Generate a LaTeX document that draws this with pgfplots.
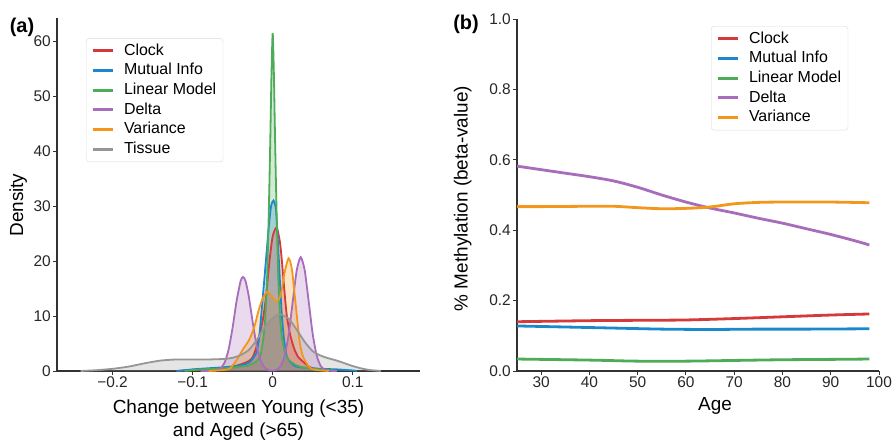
\documentclass[border=0pt]{standalone}
\usepackage{fontspec}
\setmainfont{Liberation Sans}
\usepackage{pgfplots}
\pgfplotsset{compat=1.18}
\definecolor{cRed}{RGB}{212,58,58}
\definecolor{cBlue}{RGB}{28,136,204}
\definecolor{cGreen}{RGB}{78,172,88}
\definecolor{cPurple}{RGB}{168,108,188}
\definecolor{cOrange}{RGB}{242,150,28}
\definecolor{cGray}{RGB}{150,150,150}
\definecolor{axc}{RGB}{50,50,50}
\pgfplotsset{
  myaxis/.style={
    scale only axis,
    anchor=south west,
    axis x line*=bottom, axis y line*=left,
    axis line style={-, draw=axc, line width=1.2bp},
    tick align=outside, major tick length=4bp,
    tick style={draw=axc, line width=1bp},
    ticklabel style={font=\fontsize{15.5}{18}\selectfont, text=black!85, inner sep=2bp},
    label style={font=\fontsize{19}{23}\selectfont},
    /pgf/number format/assume math mode=true,
    legend cell align=left,
    legend image code/.code={\draw[##1, line width=3bp] (0bp,0bp) -- (20bp,0bp);},
    legend style={draw=black!15, rounded corners=3bp, fill=white, fill opacity=0.85, text opacity=1,
      font=\fontsize{16}{19}\selectfont, inner xsep=5bp, inner ysep=3bp, row sep=0.6bp,
      nodes={inner sep=1.8bp, text height=12bp, text depth=3.5bp},
      /tikz/every odd column/.append style={column sep=8bp}},
  },
  kde/.style={draw=none, fill=#1, fill opacity=0.25, forget plot},
  kdl/.style={draw=#1, line width=1.8bp, smooth, tension=0.4},
}
\begin{document}
\begin{tikzpicture}
\useasboundingbox (0bp,0bp) rectangle (896bp,-442bp);
% ---------------- panel (a)
\begin{axis}[myaxis,
  at={(57bp,-371bp)}, width=363bp, height=353bp,
  xmin=-0.2694, xmax=0.184, ymin=0, ymax=64.2,
  xtick={-0.2,-0.1,0,0.1}, xticklabels={−0.2,−0.1,0,0.1},
  ytick={0,10,20,30,40,50,60}, yticklabels={0,10,20,30,40,50,60},
  xlabel={Change between Young (<35)\\and Aged (>65)},
  xlabel style={align=center, at={(axis description cs:0.5,-0.14)}, anchor=center},
  ylabel={Density},
  ylabel style={at={(axis description cs:-0.107,0.47)}, anchor=center, rotate=0},
  legend style={at={(axis description cs:0.08,0.943)}, anchor=north west},
]
% fills
\addplot[kde=cGray] coordinates {(-0.24,0) (-0.22,0.15) (-0.2,0.4) (-0.18,0.8) (-0.16,1.4) (-0.14,1.9) (-0.12,2.1) (-0.1,2.1) (-0.08,2.1) (-0.06,2.2) (-0.05,2.4) (-0.04,2.9) (-0.03,3.8) (-0.02,5.6) (-0.01,8) (0,9.6) (0.0094,10.3) (0.02,9.5) (0.03,7.5) (0.04,5.3) (0.05,3.6) (0.06,2.8) (0.07,2.3) (0.08,1.9) (0.09,1.4) (0.1,0.9) (0.11,0.5) (0.12,0.2) (0.135,0)} \closedcycle;
\addplot[kde=cPurple] coordinates {(-0.09,0) (-0.075,0.03) (-0.07,0.12) (-0.065,0.49) (-0.06,1.55) (-0.055,3.93) (-0.05,7.95) (-0.045,12.8) (-0.04,16.4) (-0.037,17.1) (-0.034,16.4) (-0.03,13.7) (-0.025,8.9) (-0.02,4.6) (-0.015,1.9) (-0.01,0.63) (-0.005,0.18) (0,0.08) (0.005,0.23) (0.01,0.91) (0.015,2.8) (0.02,6.7) (0.025,12.6) (0.03,18.3) (0.035,20.7) (0.04,18.3) (0.045,12.6) (0.05,6.7) (0.055,2.8) (0.06,0.91) (0.065,0.23) (0.07,0.05) (0.08,0)} \closedcycle;
\addplot[kde=cOrange] coordinates {(-0.08,0) (-0.06,0.2) (-0.053,0.5) (-0.045,2) (-0.0365,4.1) (-0.03,5.5) (-0.026,6.8) (-0.022,8.5) (-0.018,10.8) (-0.013,13) (-0.0073,14.4) (-0.002,13.8) (0.003,12.8) (0.0073,12.9) (0.011,14.5) (0.015,18) (0.0198,20.5) (0.024,18.5) (0.029,11.7) (0.032,7.5) (0.034,5) (0.037,3) (0.04,2) (0.045,0.8) (0.05,0.3) (0.06,0.1) (0.07,0)} \closedcycle;
\addplot[kde=cGreen] coordinates {(-0.11,0) (-0.09,0.3) (-0.07,0.4) (-0.05,0.6) (-0.04,0.8) (-0.03,1.0) (-0.02,1.8) (-0.015,3) (-0.01,8) (-0.007,17) (-0.005,28) (-0.003,42) (-0.0015,54) (0,61.5) (0.0015,54) (0.003,42) (0.005,28) (0.007,17) (0.01,8) (0.015,3.5) (0.02,2) (0.03,1.0) (0.04,0.6) (0.05,0.4) (0.06,0.3) (0.07,0.2) (0.08,0)} \closedcycle;
\addplot[kde=cBlue] coordinates {(-0.12,0) (-0.1,0.3) (-0.08,0.5) (-0.06,0.7) (-0.04,1.0) (-0.03,1.5) (-0.025,2.2) (-0.02,3.5) (-0.017,6) (-0.0144,10) (-0.012,14) (-0.0085,20) (-0.005,26) (-0.002,30) (0.001,31) (0.004,29.5) (0.006,25) (0.0078,20) (0.0095,15) (0.0115,10) (0.014,6) (0.017,3) (0.02,2) (0.025,1.2) (0.03,0.8) (0.04,0.6) (0.06,0.4) (0.08,0.3) (0.1,0.1) (0.105,0)} \closedcycle;
\addplot[kde=cRed] coordinates {(-0.12,0) (-0.1,0.2) (-0.08,0.3) (-0.06,0.5) (-0.05,0.8) (-0.04,1.2) (-0.03,1.8) (-0.025,2.5) (-0.02,4.5) (-0.015,7.5) (-0.0115,10) (-0.008,14) (-0.004,20) (0,24.5) (0.005,26.1) (0.009,23.5) (0.0115,20) (0.015,14) (0.0177,10) (0.022,6.5) (0.027,4) (0.032,2.5) (0.038,1.7) (0.045,0.8) (0.05,0.5) (0.06,0.3) (0.07,0.2) (0.08,0)} \closedcycle;
% lines
\addplot[kdl=cRed] coordinates {(-0.12,0) (-0.1,0.2) (-0.08,0.3) (-0.06,0.5) (-0.05,0.8) (-0.04,1.2) (-0.03,1.8) (-0.025,2.5) (-0.02,4.5) (-0.015,7.5) (-0.0115,10) (-0.008,14) (-0.004,20) (0,24.5) (0.005,26.1) (0.009,23.5) (0.0115,20) (0.015,14) (0.0177,10) (0.022,6.5) (0.027,4) (0.032,2.5) (0.038,1.7) (0.045,0.8) (0.05,0.5) (0.06,0.3) (0.07,0.2) (0.08,0)};
\addlegendentry{Clock}
\addplot[kdl=cBlue] coordinates {(-0.12,0) (-0.1,0.3) (-0.08,0.5) (-0.06,0.7) (-0.04,1.0) (-0.03,1.5) (-0.025,2.2) (-0.02,3.5) (-0.017,6) (-0.0144,10) (-0.012,14) (-0.0085,20) (-0.005,26) (-0.002,30) (0.001,31) (0.004,29.5) (0.006,25) (0.0078,20) (0.0095,15) (0.0115,10) (0.014,6) (0.017,3) (0.02,2) (0.025,1.2) (0.03,0.8) (0.04,0.6) (0.06,0.4) (0.08,0.3) (0.1,0.1) (0.105,0)};
\addlegendentry{Mutual Info}
\addplot[kdl=cGreen] coordinates {(-0.11,0) (-0.09,0.3) (-0.07,0.4) (-0.05,0.6) (-0.04,0.8) (-0.03,1.0) (-0.02,1.8) (-0.015,3) (-0.01,8) (-0.007,17) (-0.005,28) (-0.003,42) (-0.0015,54) (0,61.5) (0.0015,54) (0.003,42) (0.005,28) (0.007,17) (0.01,8) (0.015,3.5) (0.02,2) (0.03,1.0) (0.04,0.6) (0.05,0.4) (0.06,0.3) (0.07,0.2) (0.08,0)};
\addlegendentry{Linear Model}
\addplot[kdl=cPurple] coordinates {(-0.09,0) (-0.075,0.03) (-0.07,0.12) (-0.065,0.49) (-0.06,1.55) (-0.055,3.93) (-0.05,7.95) (-0.045,12.8) (-0.04,16.4) (-0.037,17.1) (-0.034,16.4) (-0.03,13.7) (-0.025,8.9) (-0.02,4.6) (-0.015,1.9) (-0.01,0.63) (-0.005,0.18) (0,0.08) (0.005,0.23) (0.01,0.91) (0.015,2.8) (0.02,6.7) (0.025,12.6) (0.03,18.3) (0.035,20.7) (0.04,18.3) (0.045,12.6) (0.05,6.7) (0.055,2.8) (0.06,0.91) (0.065,0.23) (0.07,0.05) (0.08,0)};
\addlegendentry{Delta}
\addplot[kdl=cOrange] coordinates {(-0.08,0) (-0.06,0.2) (-0.053,0.5) (-0.045,2) (-0.0365,4.1) (-0.03,5.5) (-0.026,6.8) (-0.022,8.5) (-0.018,10.8) (-0.013,13) (-0.0073,14.4) (-0.002,13.8) (0.003,12.8) (0.0073,12.9) (0.011,14.5) (0.015,18) (0.0198,20.5) (0.024,18.5) (0.029,11.7) (0.032,7.5) (0.034,5) (0.037,3) (0.04,2) (0.045,0.8) (0.05,0.3) (0.06,0.1) (0.07,0)};
\addlegendentry{Variance}
\addplot[kdl=cGray] coordinates {(-0.24,0) (-0.22,0.15) (-0.2,0.4) (-0.18,0.8) (-0.16,1.4) (-0.14,1.9) (-0.12,2.1) (-0.1,2.1) (-0.08,2.1) (-0.06,2.2) (-0.05,2.4) (-0.04,2.9) (-0.03,3.8) (-0.02,5.6) (-0.01,8) (0,9.6) (0.0094,10.3) (0.02,9.5) (0.03,7.5) (0.04,5.3) (0.05,3.6) (0.06,2.8) (0.07,2.3) (0.08,1.9) (0.09,1.4) (0.1,0.9) (0.11,0.5) (0.12,0.2) (0.135,0)};
\addlegendentry{Tissue}
\end{axis}
% ---------------- panel (b)
\begin{axis}[myaxis,
  at={(517bp,-371bp)}, width=362bp, height=352bp,
  xmin=25, xmax=100, ymin=0, ymax=1,
  xtick={30,40,50,60,70,80,90,100}, xticklabels={30,40,50,60,70,80,90,100},
  ytick={0,0.2,0.4,0.6,0.8,1}, yticklabels={0.0,0.2,0.4,0.6,0.8,1.0},
  xlabel={Age},
  xlabel style={at={(axis description cs:0.547,-0.1)}, anchor=center},
  ylabel={\% Methylation (beta-value)},
  ylabel style={at={(axis description cs:-0.15,0.49)}, anchor=center, rotate=0},
  legend style={at={(axis description cs:0.536,0.98)}, anchor=north west},
  every axis plot/.append style={line width=2.8bp, smooth, tension=0.5},
]
\addplot[draw=cRed] coordinates {(25,0.140) (40,0.143) (50,0.144) (60,0.145) (70,0.149) (80,0.154) (90,0.159) (98,0.162)};
\addlegendentry{Clock}
\addplot[draw=cBlue] coordinates {(25,0.128) (35,0.125) (45,0.122) (55,0.119) (65,0.118) (75,0.119) (85,0.119) (98,0.120)};
\addlegendentry{Mutual Info}
\addplot[draw=cGreen] coordinates {(25,0.034) (40,0.031) (50,0.028) (60,0.028) (70,0.030) (80,0.032) (90,0.033) (98,0.034)};
\addlegendentry{Linear Model}
\addplot[draw=cPurple] coordinates {(25,0.582) (30,0.572) (35,0.562) (40,0.552) (45,0.540) (50,0.522) (55,0.500) (60,0.480) (65,0.463) (70,0.449) (75,0.434) (80,0.420) (85,0.404) (90,0.388) (95,0.370) (98,0.358)};
\addlegendentry{Delta}
\addplot[draw=cOrange] coordinates {(25,0.467) (30,0.467) (40,0.468) (45,0.468) (50,0.464) (55,0.461) (60,0.462) (65,0.466) (70,0.475) (75,0.479) (80,0.480) (90,0.480) (98,0.478)};
\addlegendentry{Variance}
\end{axis}
\node[font=\bfseries\fontsize{20}{24}\selectfont, inner sep=0pt] at (22bp,-27bp) {(a)};
\node[font=\bfseries\fontsize{20}{24}\selectfont, inner sep=0pt] at (466bp,-24bp) {(b)};
\end{tikzpicture}
\end{document}
